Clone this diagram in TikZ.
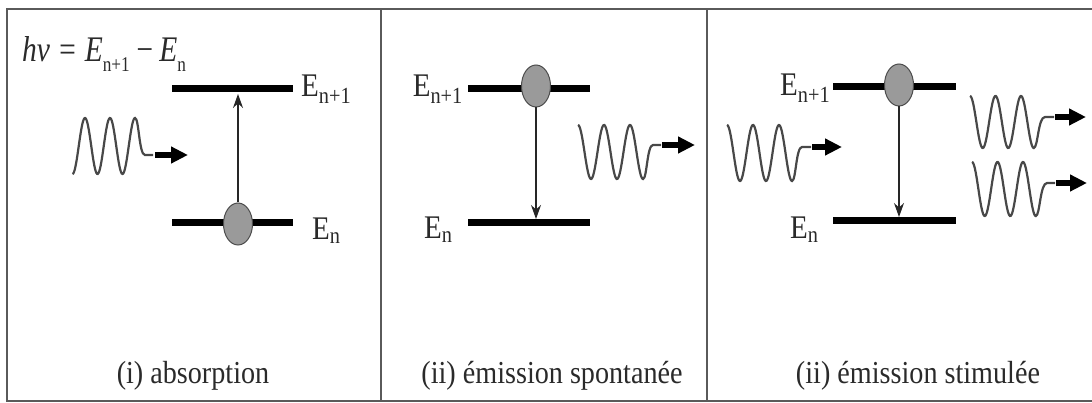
\documentclass[tikz,border=0pt]{standalone}
\usepackage{fontspec}
\setmainfont{Liberation Serif}
\usetikzlibrary{shapes.geometric,arrows.meta}
\definecolor{fr}{HTML}{5A5A5A}
\definecolor{wv}{HTML}{484848}
\definecolor{tx}{HTML}{2A2A2A}
\definecolor{ballc}{HTML}{9A9A9A}
\newcommand\sqz[1]{\scalebox{0.88}[1]{#1}}
\newcommand\eqsub[1]{\raisebox{-10pt}{\fontsize{21}{21}\selectfont\upshape #1}}
\begin{document}
\begin{tikzpicture}[x=1pt,y=-1pt,
  frame/.style={draw=fr, line width=2.5pt},
  level/.style={draw=black, line width=7pt},
  ball/.style={ellipse, draw=black!70, fill=ballc, minimum width=29pt, minimum height=42pt, inner sep=0pt, line width=1pt},
  trans/.style={draw=black!85, line width=1.3pt, -{Stealth[length=14pt,width=10pt]}},
  wave/.style={draw=wv, line width=2.2pt},
  photon/.style={draw=black, line width=5.5pt, -{Triangle[length=17pt,width=16pt]}},
  lbl/.style={text=tx, inner sep=0pt, font=\fontsize{33}{36}\selectfont},
  captext/.style={text=tx, inner sep=0pt, anchor=base, font=\fontsize{32}{36}\selectfont}]
\useasboundingbox (0,0) rectangle (1092,403);
% frame
\draw[frame] (1092,9) -- (7,9) -- (7,401) -- (1092,401);
\draw[frame] (381,9) -- (381,401);
\draw[frame] (707,9) -- (707,401);

% ---------- panel 1: absorption ----------
\node[text=tx, inner sep=0pt, anchor=base west, font=\fontsize{36}{40}\selectfont] (eq) at (22,62)
  {\scalebox{0.82}[1]{\itshape hν = E\eqsub{n+1}\,−\,E\eqsub{n}}};
\draw[level] (172,89) -- (293,89);
\draw[level] (172,223) -- (293,223);
\node[ball] (b1) at (238,224) {};
\coordinate (t1) at (238,94);
\draw[trans] (b1.north) -- (t1);
\node[lbl, anchor=base west] (l1a) at (301,97) {\sqz{E\textsubscript{n+1}}};
\node[lbl, anchor=base west] (l1b) at (312,240) {\sqz{E\textsubscript{n}}};
\draw[wave] plot[domain=72.5:135, samples=90, smooth] (\x,{146-28*cos(14.4*(\x-85))})
  .. controls (139,118) and (139,155) .. (145,155) -- (153,155);
\coordinate (p1s) at (155,155);
\coordinate (p1e) at (188,155);
\draw[photon] (p1s) -- (p1e);
\node[captext] (c1) at (193,383) {\sqz{(i) absorption}};

% ---------- panel 2: spontaneous emission ----------
\draw[level] (468,89) -- (590,89);
\draw[level] (468,223) -- (590,223);
\node[ball] (b2) at (536,86) {};
\coordinate (t2) at (536,219);
\draw[trans] (b2.south) -- (t2);
\node[lbl, anchor=base east] (l2a) at (463,97) {\sqz{E\textsubscript{n+1}}};
\node[lbl, anchor=base west] (l2b) at (424,239) {\sqz{E\textsubscript{n}}};
\draw[wave] plot[domain=578:643, samples=90, smooth] (\x,{152-27*cos(13.84615*(\x-578))})
  .. controls (647,179) and (647,145) .. (653,145) -- (661,145);
\coordinate (p2s) at (662,145);
\coordinate (p2e) at (695,145);
\draw[photon] (p2s) -- (p2e);
\node[captext] (c2) at (552,383) {\sqz{(ii) émission spontanée}};

% ---------- panel 3: stimulated emission ----------
\draw[level] (833,87) -- (956,87);
\draw[level] (833,221) -- (956,221);
\node[ball] (b3) at (899,85) {};
\coordinate (t3) at (899,217);
\draw[trans] (b3.south) -- (t3);
\node[lbl, anchor=base west] (l3a) at (780,96) {\sqz{E\textsubscript{n+1}}};
\node[lbl, anchor=base west] (l3b) at (790,239) {\sqz{E\textsubscript{n}}};
% incoming photon
\draw[wave] plot[domain=727:792, samples=90, smooth] (\x,{153-28*cos(13.84615*(\x-727))})
  .. controls (796,181) and (796,147) .. (802,147) -- (811,147);
\coordinate (p3s) at (812,147);
\coordinate (p3e) at (842,147);
\draw[photon] (p3s) -- (p3e);
% outgoing photons
\draw[wave] plot[domain=970:1033.75, samples=90, smooth] (\x,{122-26*cos(14.11765*(\x-970))})
  .. controls (1038,148) and (1038,117) .. (1045,117) -- (1054,117);
\coordinate (p4s) at (1055,117);
\coordinate (p4e) at (1086,117);
\draw[photon] (p4s) -- (p4e);
\draw[wave] plot[domain=972:1035.75, samples=90, smooth] (\x,{189-27*cos(14.11765*(\x-972))})
  .. controls (1040,216) and (1040,183) .. (1047,183) -- (1055,183);
\coordinate (p5s) at (1056,183);
\coordinate (p5e) at (1087,183);
\draw[photon] (p5s) -- (p5e);
\node[captext] (c3) at (918,383) {\sqz{(ii) émission stimulée}};
\end{tikzpicture}
\end{document}
